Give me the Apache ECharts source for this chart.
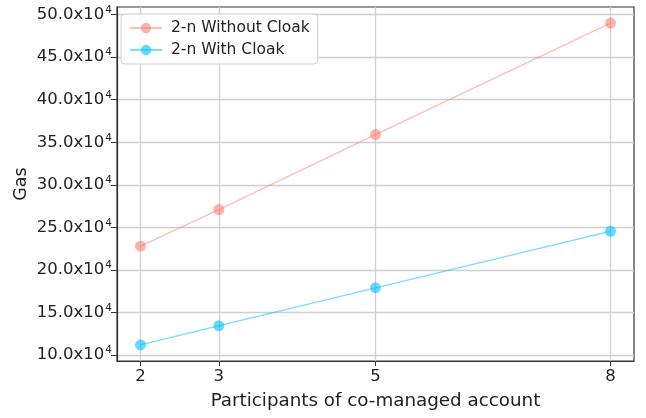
<!DOCTYPE html>
<html>
<head>
<meta charset="utf-8">
<script src="https://cdn.jsdelivr.net/npm/echarts@6/dist/echarts.min.js"></script>
<style>html,body{margin:0;padding:0;background:#fff}#c{width:646px;height:418px}</style>
</head>
<body>
<div id="c"></div>
<script>
const participants = [2, 3, 5, 8];
const withoutCloak = [22.8, 27.1, 35.9, 49.0];
const withCloak = [11.2, 13.45, 17.9, 24.55];
const yTicks = [10, 15, 20, 25, 30, 35, 40, 45, 50];
const xTicks = [2, 3, 5, 8];
const seriesNames = ['2-n Without Cloak', '2-n With Cloak'];

const FONT = 'DejaVu Sans';
const chart = echarts.init(document.getElementById('c'), null, {renderer: 'canvas'});
const pair = (xs, ys) => xs.map((x, i) => [x, ys[i]]);
const gridLine = {show: true, lineStyle: {color: '#d0d0d0', width: 1.3}};

chart.setOption({
  animation: false,
  backgroundColor: '#fff',
  textStyle: {fontFamily: FONT},
  grid: {left: 117, right: 12, top: 7, bottom: 57, show: true, borderColor: '#333', borderWidth: 1.2, containLabel: false},
  legend: {
    left: 121, top: 14, orient: 'vertical',
    padding: [6, 8, 6, 8], itemGap: 6,
    itemWidth: 32, itemHeight: 13,
    backgroundColor: 'rgba(255,255,255,0.85)',
    borderColor: '#d0d0d0', borderWidth: 1, borderRadius: 4,
    textStyle: {fontFamily: FONT, fontSize: 15.5, color: '#222', padding: [0, 0, 0, 4]},
    data: seriesNames
  },
  xAxis: {
    type: 'value', min: 1.7, max: 8.3,
    name: 'Participants of co-managed account', nameLocation: 'middle', nameGap: 31,
    nameMoveOverlap: false,
    nameTextStyle: {fontFamily: FONT, fontSize: 18.3, color: '#222'},
    axisLine: {show: true, onZero: false, lineStyle: {color: '#333', width: 1.2}},
    axisTick: {show: true, length: 5, customValues: xTicks, lineStyle: {color: '#333'}},
    axisLabel: {customValues: xTicks, margin: 7, fontFamily: FONT, fontSize: 16.5, color: '#222'},
    splitLine: gridLine
  },
  yAxis: {
    type: 'value', min: 9.31, max: 50.89,
    name: 'Gas', nameLocation: 'middle', nameGap: 87,
    nameMoveOverlap: false,
    nameTextStyle: {fontFamily: FONT, fontSize: 17.5, color: '#222'},
    axisLine: {show: true, onZero: false, lineStyle: {color: '#333', width: 1.2}},
    axisTick: {show: true, length: 6, customValues: yTicks, lineStyle: {color: '#333'}},
    axisLabel: {
      customValues: yTicks, margin: 5, fontFamily: FONT, fontSize: 16.5, color: '#222',
      formatter: v => '{b|' + v.toFixed(1) + 'x10}{s|4}',
      rich: {
        b: {fontFamily: FONT, fontSize: 16.5, color: '#222'},
        s: {fontFamily: FONT, fontSize: 10.5, color: '#222', padding: [0, 0, 9, 1]}
      }
    },
    splitLine: gridLine
  },
  series: [
    {
      name: seriesNames[0], type: 'line', data: pair(participants, withoutCloak),
      symbol: 'circle', symbolSize: 11,
      itemStyle: {color: '#fa8072', opacity: 0.6},
      lineStyle: {color: '#fa8072', opacity: 0.5, width: 1.3}
    },
    {
      name: seriesNames[1], type: 'line', data: pair(participants, withCloak),
      symbol: 'circle', symbolSize: 11,
      itemStyle: {color: '#00bfff', opacity: 0.6},
      lineStyle: {color: '#00bfff', opacity: 0.5, width: 1.3}
    }
  ]
});
</script>
</body>
</html>
